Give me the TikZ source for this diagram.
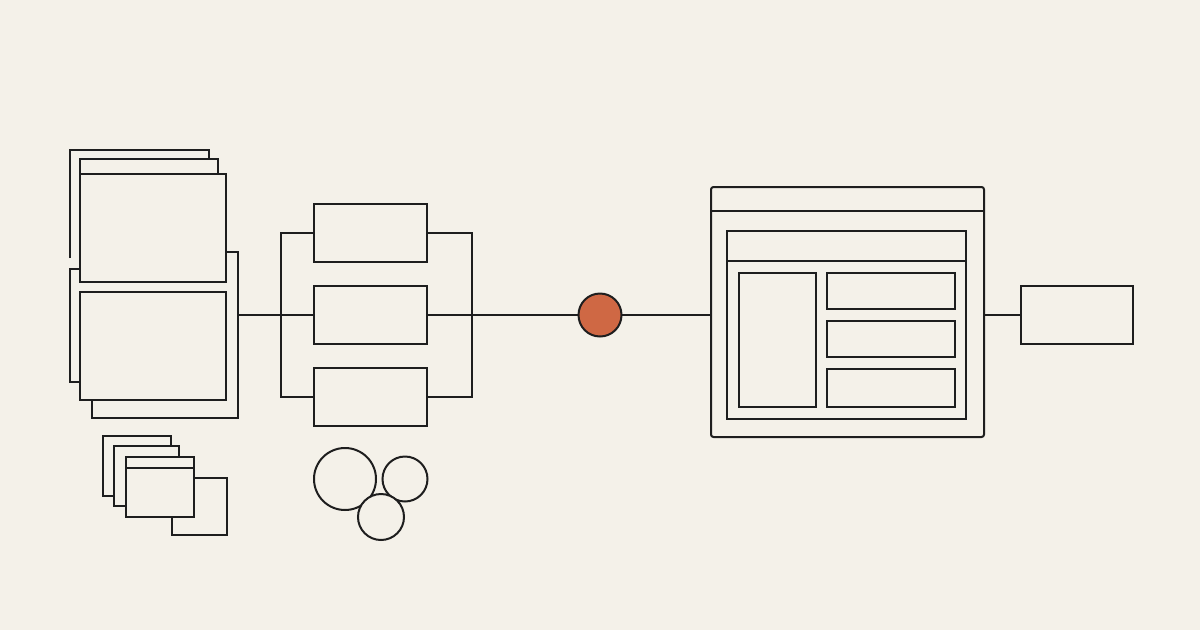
\documentclass[tikz,border=0pt]{standalone}
\usepackage{tikz}
\usetikzlibrary{positioning,calc}
\definecolor{paper}{RGB}{244,241,233}
\definecolor{ink}{RGB}{30,30,30}
\definecolor{accent}{RGB}{207,104,68}
\tikzstyle{box}=[rectangle, draw=ink, fill=paper, line width=2pt, inner sep=0pt, outer sep=0pt]
\tikzstyle{ring}=[circle, draw=ink, fill=paper, line width=2pt, inner sep=0pt, outer sep=0pt]
\tikzstyle{wire}=[draw=ink, line width=2pt]

\begin{document}
\begin{tikzpicture}[x=1pt, y=-1pt]
				\fill[paper](0,0)rectangle(1200,630);
				\useasboundingbox(0,0)rectangle(1200,630);
				% stacked pages
				\draw[wire](70,258)--(70,150)--(209,150)--(209,159);
				\draw[wire](80,174)--(80,159)--(218,159)--(218,174);
				\draw[wire](80,269)--(70,269)--(70,382)--(80,382);
				\draw[wire](226,252)--(238,252)--(238,418)--(92,418)--(92,400);
				\node[box, minimum width=146pt, minimum height=108pt](ptop)at(153,228){};
				\node[box, minimum width=146pt, minimum height=108pt](pbot)at(153,346){};
				\coordinate(pout)at(238,315);
				% small windows
				\draw[wire](114,496)--(103,496)--(103,436)--(171,436)--(171,446);
				\draw[wire](126,506)--(114,506)--(114,446)--(179,446)--(179,457);
				\draw[wire](194,478)--(227,478)--(227,535)--(172,535)--(172,517);
				\node[box, minimum width=68pt, minimum height=60pt](swin)at(160,487){};
				\draw[wire]([yshift=-11pt]swin.north west)--([yshift=-11pt]swin.north east);
				% parallel branches
				\node[box, minimum width=113pt, minimum height=58pt](b1)at(370.5,233){};
				\node[box, minimum width=113pt, minimum height=58pt](b2)at(370.5,315){};
				\node[box, minimum width=113pt, minimum height=58pt](b3)at(370.5,397){};
				\draw[wire](b1.west)--++(-33,0)|-(b3.west);
				\draw[wire](b1.east)--++(45,0)|-(b3.east);
				\draw[wire](pout)--(b2.west);
				% circles
				\node[ring, minimum size=62pt](c1)at(345,479){};
				\node[ring, minimum size=45pt](c2)at(405,479){};
				\node[ring, minimum size=46pt](c3)at(381,517){};
				% hub
				\node[ring, fill=accent, minimum size=43pt](hub)at(600,315){};
				\draw[wire](b2.east)--(hub);
				% app window
				\node[box, rounded corners=2.5pt, minimum width=273pt, minimum height=250pt](win)at(847.5,312){};
				\draw[wire]([yshift=-24pt]win.north west)--([yshift=-24pt]win.north east);
				\node[box, minimum width=239pt, minimum height=188pt](panel)at(846.5,325){};
				\draw[wire]([yshift=-30pt]panel.north west)--([yshift=-30pt]panel.north east);
				\node[box, minimum width=77pt, minimum height=134pt](side)at(777.5,340){};
				\node[box, minimum width=128pt, minimum height=36pt](row1)at(891,291){};
				\node[box, minimum width=128pt, minimum height=36pt](row2)at(891,339){};
				\node[box, minimum width=128pt, minimum height=38pt](row3)at(891,388){};
				\draw[wire](hub)--(hub-|win.west);
				% output
				\node[box, minimum width=112pt, minimum height=58pt](out)at(1077,315){};
				\draw[wire](out-|win.east)--(out.west);
			\end{tikzpicture}
\end{document}
